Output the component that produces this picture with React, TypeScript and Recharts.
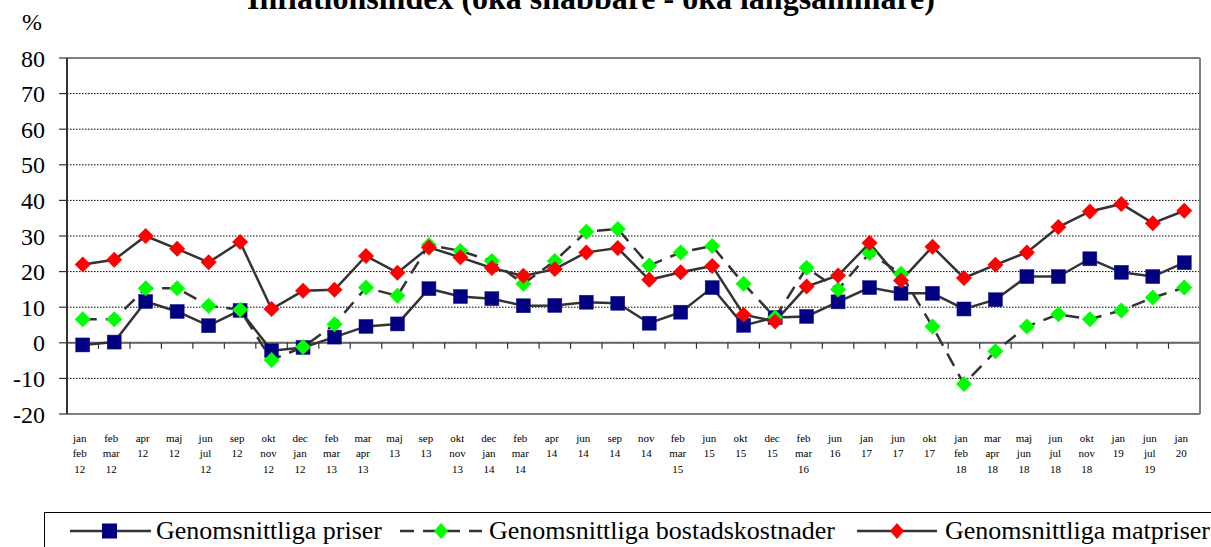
import React from 'react';
import { LineChart, Line, XAxis, YAxis, CartesianGrid, ReferenceLine } from 'recharts';

// ---------- data ----------
const categories: string[] = [
  'jan\nfeb\n12', 'feb\nmar\n12', 'apr\n12', 'maj\n12', 'jun\njul\n12', 'sep\n12',
  'okt\nnov\n12', 'dec\njan\n12', 'feb\nmar\n13', 'mar\napr\n13', 'maj\n13', 'sep\n13',
  'okt\nnov\n13', 'dec\njan\n14', 'feb\nmar\n14', 'apr\n14', 'jun\n14', 'sep\n14',
  'nov\n14', 'feb\nmar\n15', 'jun\n15', 'okt\n15', 'dec\n15', 'feb\nmar\n16',
  'jun\n16', 'jan\n17', 'jun\n17', 'okt\n17', 'jan\nfeb\n18', 'mar\napr\n18',
  'maj\njun\n18', 'jun\njul\n18', 'okt\nnov\n18', 'jan\n19', 'jun\njul\n19', 'jan\n20',
];

const priser: number[] = [
  -0.6, 0.2, 11.6, 8.8, 4.8, 9.1, -2.2, -1.3, 1.6, 4.6, 5.3, 15.2,
  13.0, 12.4, 10.4, 10.5, 11.4, 11.1, 5.5, 8.6, 15.5, 4.9, 7.1, 7.4,
  11.5, 15.5, 13.9, 13.9, 9.5, 12.1, 18.6, 18.6, 23.6, 19.8, 18.6, 22.5,
];

const bostad: number[] = [
  6.6, 6.6, 15.3, 15.3, 10.4, 9.3, -4.8, -1.2, 5.2, 15.5, 13.2, 27.5,
  25.8, 23.0, 16.6, 23.0, 31.2, 32.0, 21.7, 25.4, 27.2, 16.6, 7.1, 21.1,
  15.0, 25.2, 19.4, 4.6, -11.6, -2.4, 4.6, 8.0, 6.6, 9.1, 12.7, 15.5,
];

const mat: number[] = [
  22.0, 23.3, 30.0, 26.4, 22.6, 28.3, 9.5, 14.6, 14.9, 24.4, 19.7, 26.8,
  24.0, 21.0, 18.8, 20.7, 25.4, 26.6, 17.7, 19.8, 21.6, 7.9, 6.0, 15.8,
  18.9, 28.0, 17.5, 27.0, 18.2, 21.9, 25.4, 32.5, 36.9, 39.0, 33.6, 37.1,
];

const yTicks: number[] = [-20, -10, 0, 10, 20, 30, 40, 50, 60, 70, 80];

const seriesNames: string[] = [
  'Genomsnittliga priser',
  'Genomsnittliga bostadskostnader',
  'Genomsnittliga matpriser',
];
const titleText = 'Inflationsindex (öka snabbare - öka långsammare)';

const data = categories.map((c, i) => ({
  cat: c,
  priser: priser[i],
  bostad: bostad[i],
  mat: mat[i],
}));

// ---------- styles ----------
const W = 1211;
const H = 547;
const FONT = "'Liberation Serif', 'Times New Roman', serif";
const LINE_COLOR = '#333333';
const FRAME = '#808080';
const PLOT_LEFT = 67;
const PLOT_RIGHT = 1200;
const PLOT_TOP = 58;
const PLOT_BOTTOM = 414;
const X_AXIS_H = 70;
const N = categories.length;
const HALF_BAND = (PLOT_RIGHT - PLOT_LEFT) / N / 2;

const SquareDot = (p: any) => {
  const { cx, cy, index } = p;
  if (cx == null || cy == null) return <g key={`s-${index}`} />;
  return (
    <rect key={`s-${index}`} x={cx - 7} y={cy - 7} width={14} height={14}
      fill="#000080" stroke="#1a1a8a" strokeWidth={0.5} />
  );
};

const makeDiamond = (fill: string, prefix: string) => (p: any) => {
  const { cx, cy, index } = p;
  if (cx == null || cy == null) return <g key={`${prefix}-${index}`} />;
  const r = 8;
  return (
    <polygon key={`${prefix}-${index}`}
      points={`${cx},${cy - r} ${cx + r},${cy} ${cx},${cy + r} ${cx - r},${cy}`}
      fill={fill} />
  );
};
const GreenDot = makeDiamond('#00FF00', 'g');
const RedDot = makeDiamond('#FF0000', 'r');

const XTick = (p: any) => {
  const { x, y, payload } = p;
  const parts = String(payload.value).split('\n');
  return (
    <g>
      {parts.map((t, i) => (
        <text key={i} x={x - 3} y={y + 27.5 + i * 15.6} textAnchor="middle"
          fontSize={11} fontFamily={FONT} fill="#000">
          {t}
        </text>
      ))}
    </g>
  );
};

const ZeroAxis = (p: any) => {
  const { x1, x2, y1 } = p;
  if (x1 == null || y1 == null) return <g />;
  const step = (x2 - x1) / N;
  const ticks = [];
  for (let k = 0; k <= N; k++) {
    const tx = x1 + k * step;
    ticks.push(<line key={k} x1={tx} x2={tx} y1={y1} y2={y1 + 6} stroke={LINE_COLOR} strokeWidth={1.2} />);
  }
  return (
    <g>
      <line x1={x1} x2={x2} y1={y1} y2={y1} stroke="#666666" strokeWidth={2} />
      {ticks}
    </g>
  );
};

const Legend = () => {
  const ly = 531;
  const d = (cx: number, fill: string) => (
    <polygon points={`${cx},${ly - 8} ${cx + 7},${ly} ${cx},${ly + 8} ${cx - 7},${ly}`} fill={fill} />
  );
  return (
    <g>
      <rect x={44.5} y={512.5} width={1200} height={60} fill="#fff" stroke="#000" strokeWidth={1} />
      <line x1={70} x2={151} y1={ly} y2={ly} stroke={LINE_COLOR} strokeWidth={2.5} />
      <rect x={102} y={ly - 7.5} width={15} height={15} fill="#000080" />
      <text x={156} y={539} fontSize={26} fontFamily={FONT} fill="#000">{seriesNames[0]}</text>

      <line x1={400} x2={482} y1={ly} y2={ly} stroke={LINE_COLOR} strokeWidth={2.5} strokeDasharray="14 9" />
      {d(441, '#00FF00')}
      <text x={489} y={539} fontSize={26} fontFamily={FONT} fill="#000">{seriesNames[1]}</text>

      <line x1={857} x2={937} y1={ly} y2={ly} stroke={LINE_COLOR} strokeWidth={2.5} />
      {d(897, '#FF0000')}
      <text x={945} y={539} fontSize={26} fontFamily={FONT} fill="#000">{seriesNames[2]}</text>
    </g>
  );
};

export default function App() {
  return (
    <div style={{ position: 'absolute', left: 0, top: 0, width: W, height: H, background: '#fff', overflow: 'hidden' }}>
      <LineChart
        width={W}
        height={H}
        data={data}
        margin={{ top: PLOT_TOP, right: 0, left: 0, bottom: H - PLOT_BOTTOM - X_AXIS_H }}
      >
        <CartesianGrid vertical={false} stroke="#000" strokeDasharray="1.5 1.5" strokeWidth={1} />
        <XAxis
          dataKey="cat"
          interval={0}
          height={X_AXIS_H}
          padding={{ left: HALF_BAND, right: HALF_BAND }}
          tickLine={false}
          tickSize={0}
          tickMargin={0}
          axisLine={{ stroke: FRAME, strokeWidth: 2 }}
          tick={<XTick />}
        />
        <YAxis
          domain={[-20, 80]}
          ticks={yTicks}
          interval={0}
          width={PLOT_LEFT}
          tickSize={8}
          tickMargin={14}
          axisLine={{ stroke: LINE_COLOR, strokeWidth: 2 }}
          tickLine={{ stroke: LINE_COLOR, strokeWidth: 1.2 }}
          tick={{ fontSize: 24, fontFamily: FONT, fill: '#000' }}
          allowDataOverflow
        />
        <YAxis
          yAxisId="right"
          orientation="right"
          domain={[-20, 80]}
          width={W - PLOT_RIGHT}
          tick={false}
          tickLine={false}
          axisLine={{ stroke: FRAME, strokeWidth: 2 }}
        />
        <ReferenceLine y={80} stroke={FRAME} strokeWidth={2} />
        <ReferenceLine y={0} shape={<ZeroAxis />} />
        <Line dataKey="priser" stroke={LINE_COLOR} strokeWidth={2.5} dot={SquareDot}
          activeDot={false} isAnimationActive={false} />
        <Line dataKey="bostad" stroke={LINE_COLOR} strokeWidth={2.5} strokeDasharray="14 9"
          dot={GreenDot} activeDot={false} isAnimationActive={false} />
        <Line dataKey="mat" stroke={LINE_COLOR} strokeWidth={2.5} dot={RedDot}
          activeDot={false} isAnimationActive={false} />
      </LineChart>
      <svg width={W} height={H} style={{ position: 'absolute', left: 0, top: 0, pointerEvents: 'none' }}>
        <text x={591} y={9} textAnchor="middle" fontSize={32} fontWeight="bold" fontFamily={FONT} fill="#000">
          {titleText}
        </text>
        <text x={32} y={30} textAnchor="middle" fontSize={24} fontFamily={FONT} fill="#000">%</text>
        <Legend />
      </svg>
    </div>
  );
}
